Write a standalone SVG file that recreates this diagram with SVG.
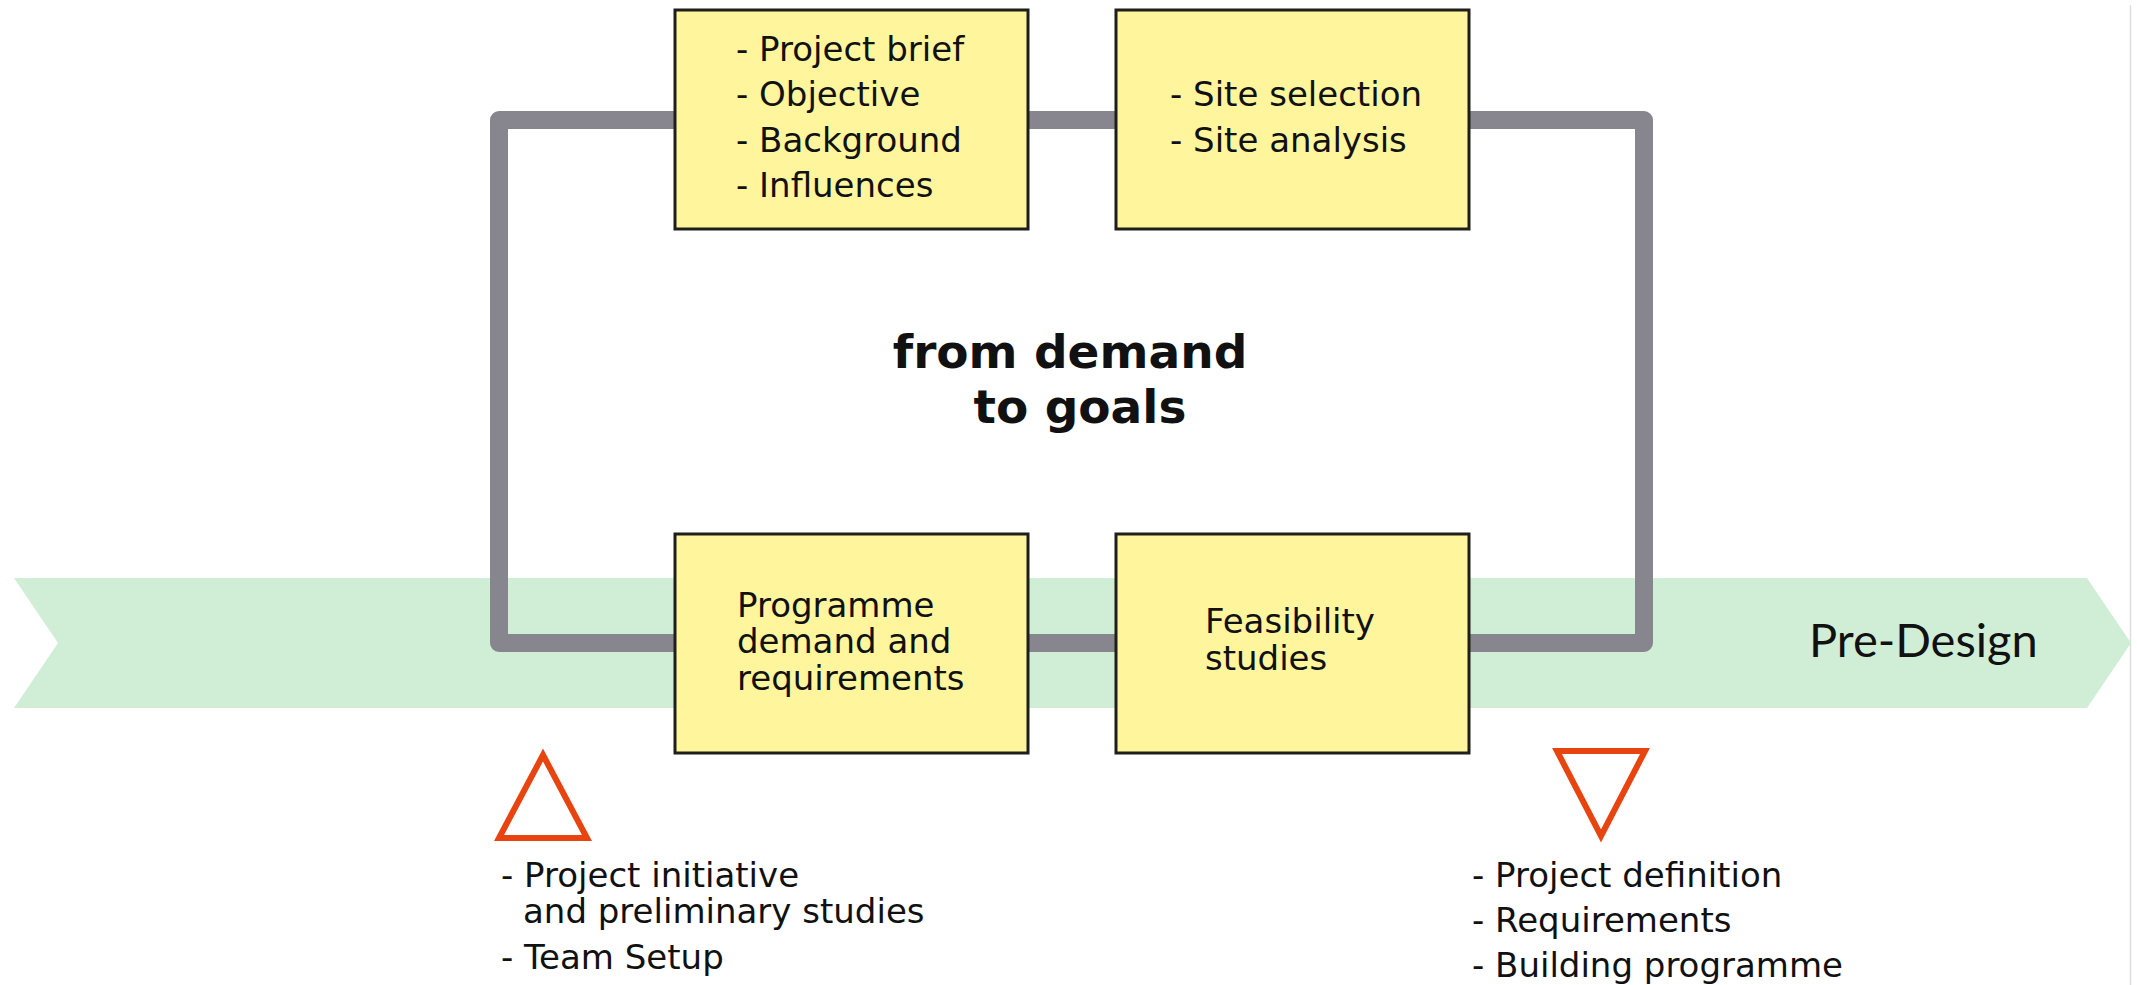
<svg xmlns="http://www.w3.org/2000/svg" width="2137" height="985" viewBox="0 0 2137 985">
<style>
.box{fill:#FEF59D;stroke:#1e1e1a;stroke-width:3}
.t{font-family:"DejaVu Sans","Liberation Sans",sans-serif;font-size:34px;fill:#111}
.title{font-family:"DejaVu Sans","Liberation Sans",sans-serif;font-size:47px;font-weight:bold;fill:#111;text-anchor:middle}
.tri{fill:none;stroke:#E8440F;stroke-width:6}
</style>
<rect width="2137" height="985" fill="#fff"/>
<line x1="2130.5" y1="5" x2="2130.5" y2="985" stroke="#dedede" stroke-width="1.5"/>
<g id="band">
<polygon points="14,578 2087,578 2131,643 2087,708 14,708 58,643" fill="#D0EED6"/>
<text x="1809" y="657" font-family="Lato,'Open Sans',sans-serif" font-size="47" fill="#111">Pre-Design</text>
</g>
<g id="connectors">
<rect x="499" y="120" width="1145" height="523" fill="none" stroke="#87868F" stroke-width="18" stroke-linejoin="round"/>
</g>
<g id="title">
<text class="title" x="1070" y="368">from demand</text>
<text class="title" x="1080" y="423">to goals</text>
</g>
<g id="node-brief">
<rect class="box" x="675" y="10" width="353" height="219"/>
<text class="t" x="736" y="61">- Project brief</text>
<text class="t" x="736" y="106">- Objective</text>
<text class="t" x="736" y="152">- Background</text>
<text class="t" x="736" y="197">- Influences</text>
</g>
<g id="node-site">
<rect class="box" x="1116" y="10" width="353" height="219"/>
<text class="t" x="1170" y="106">- Site selection</text>
<text class="t" x="1170" y="152">- Site analysis</text>
</g>
<g id="node-programme">
<rect class="box" x="675" y="534" width="353" height="219"/>
<text class="t" x="737" y="617">Programme</text>
<text class="t" x="737" y="653">demand and</text>
<text class="t" x="737" y="690">requirements</text>
</g>
<g id="node-feasibility">
<rect class="box" x="1116" y="534" width="353" height="219"/>
<text class="t" x="1205" y="633">Feasibility</text>
<text class="t" x="1205" y="670">studies</text>
</g>
<g id="milestone-start">
<polygon class="tri" points="543,755 587,838 499,838"/>
<text class="t" x="501" y="887">- Project initiative</text>
<text class="t" x="523" y="923">and preliminary studies</text>
<text class="t" x="501" y="969">- Team Setup</text>
</g>
<g id="milestone-end">
<polygon class="tri" points="1557,751 1645,751 1601,836"/>
<text class="t" x="1472" y="887">- Project definition</text>
<text class="t" x="1472" y="932">- Requirements</text>
<text class="t" x="1472" y="977">- Building programme</text>
</g>
</svg>
